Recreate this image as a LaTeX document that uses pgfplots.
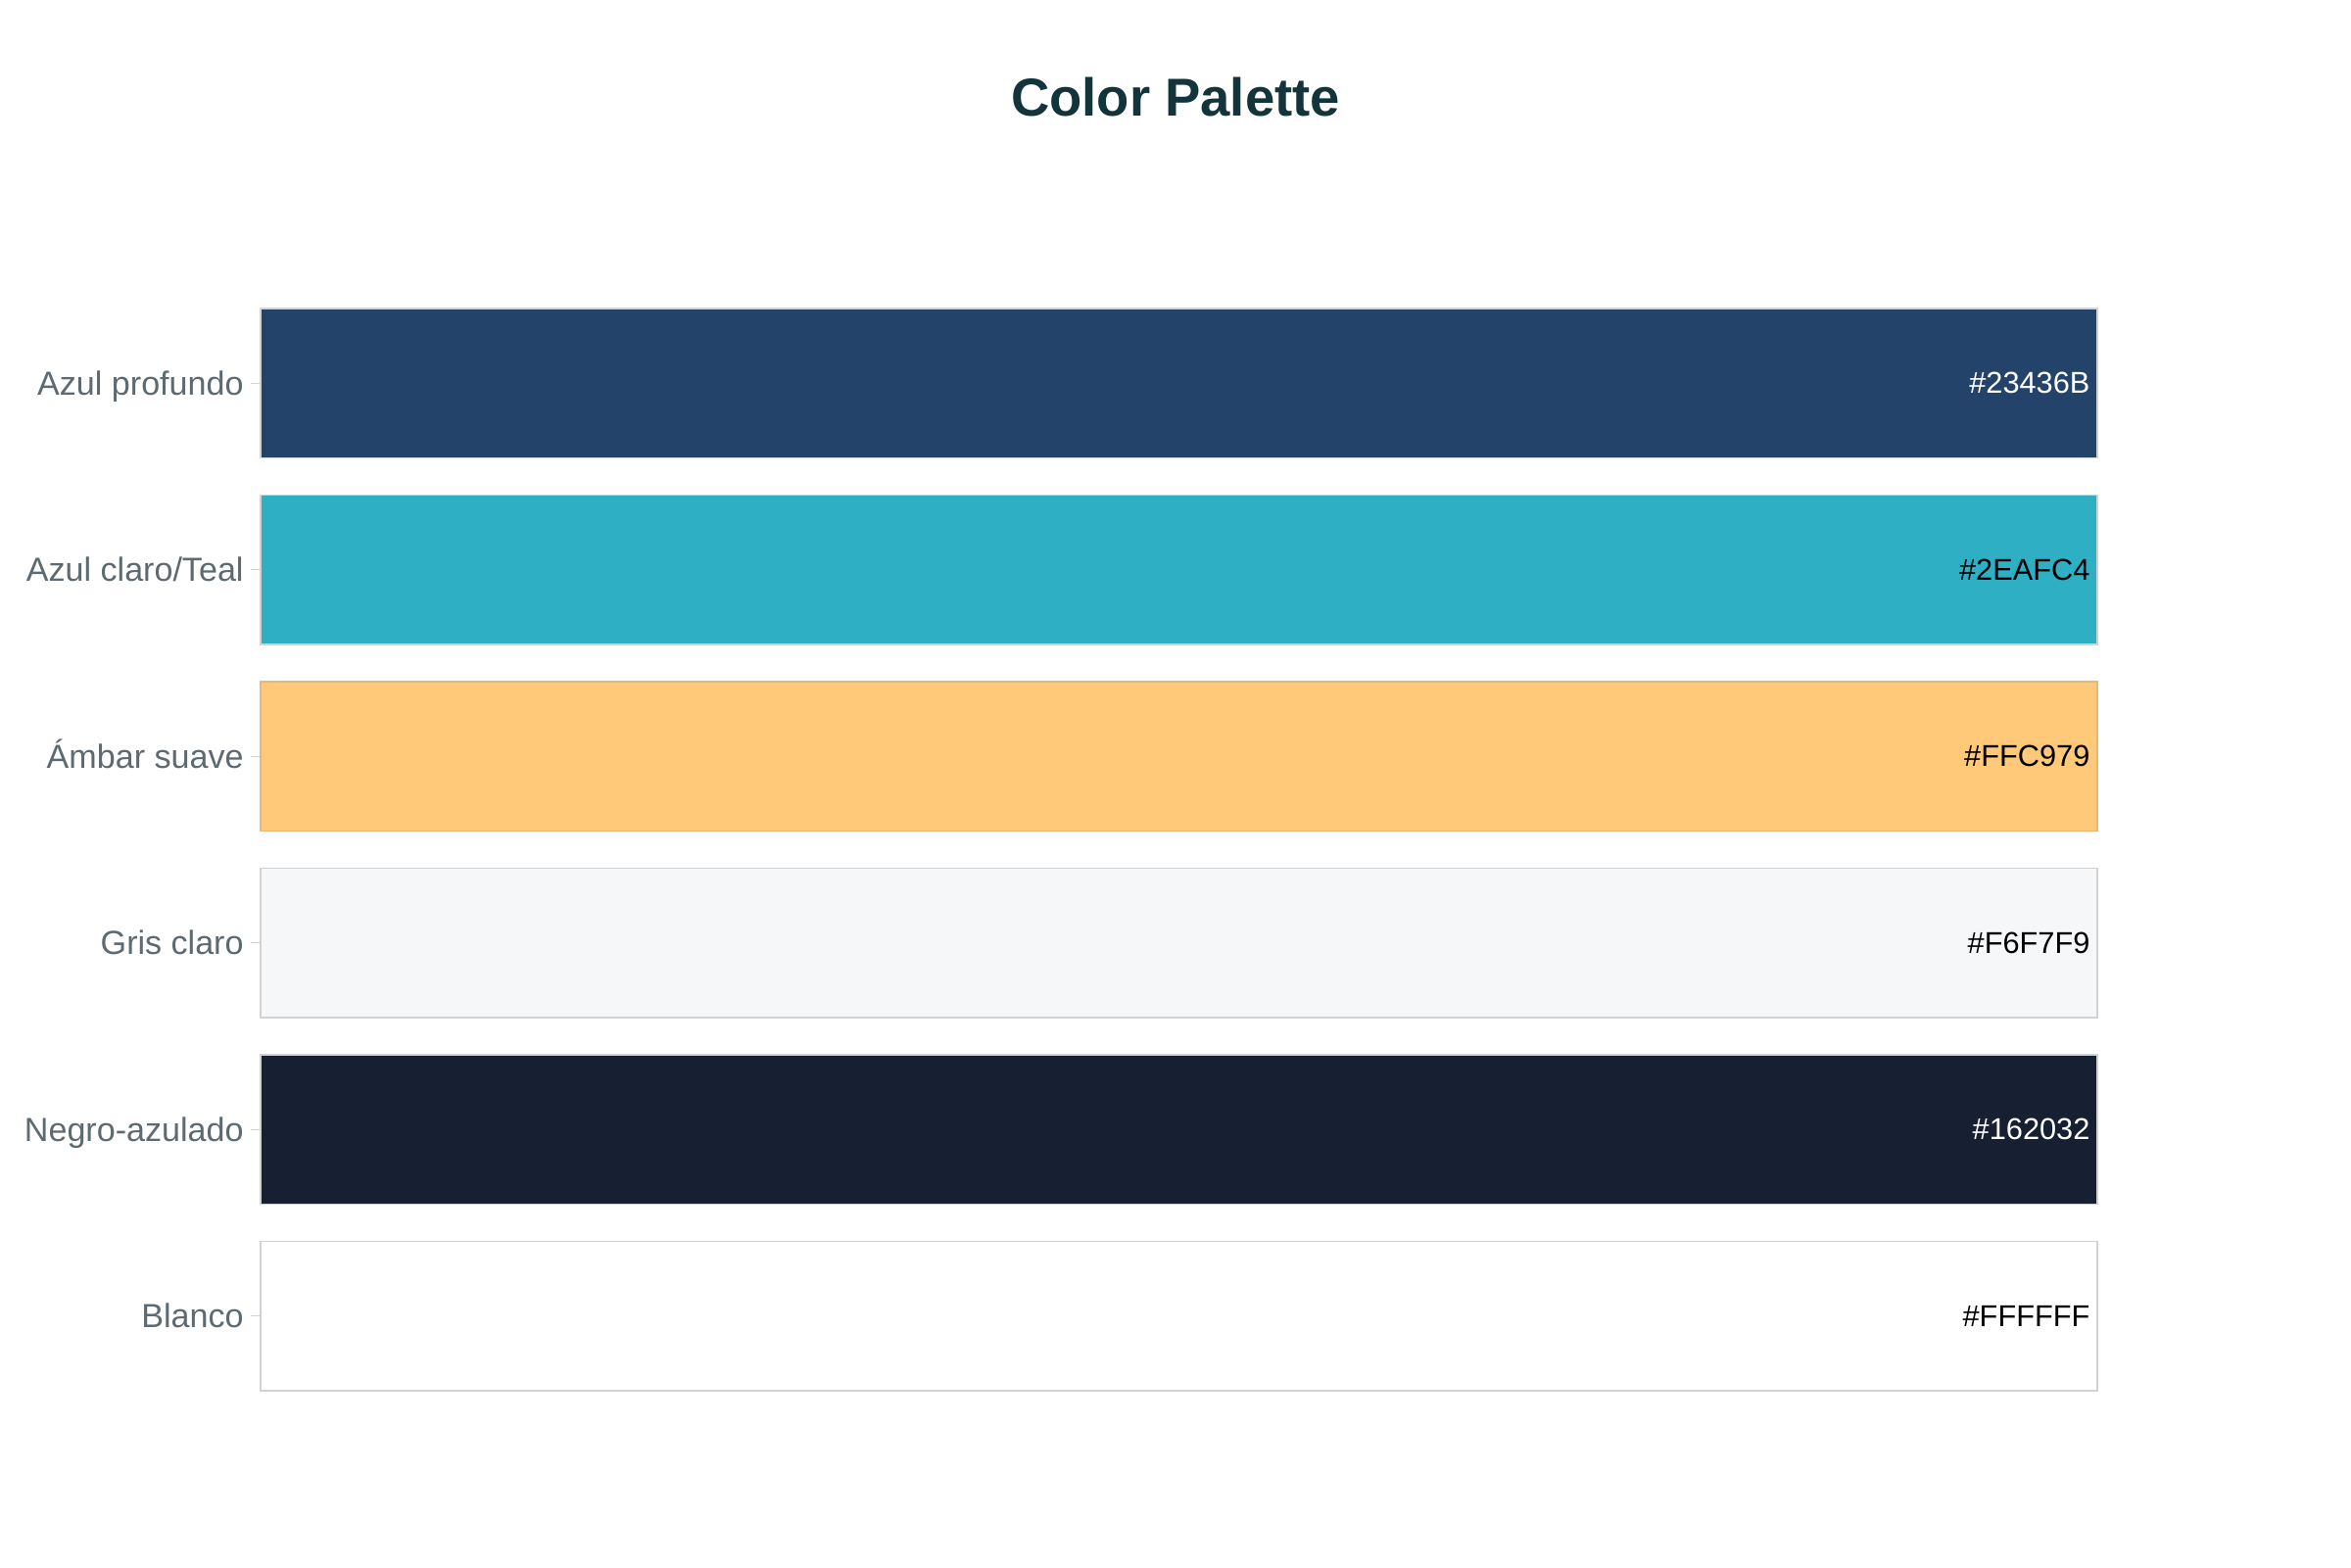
\documentclass[border=0pt]{standalone}
\usepackage{pgfplots}
\pgfplotsset{compat=1.18}
\usepackage{fontspec}
\setmainfont{Liberation Sans}
\definecolor{c1}{HTML}{23436B}
\definecolor{c2}{HTML}{2EAFC4}
\definecolor{c3}{HTML}{FFC979}
\definecolor{c4}{HTML}{F6F7F9}
\definecolor{c5}{HTML}{162032}
\definecolor{c6}{HTML}{FFFFFF}
\definecolor{titlec}{HTML}{13343B}
\definecolor{tickc}{HTML}{5E6A72}
\definecolor{edge}{HTML}{D2D2D2}
\begin{document}
\begin{tikzpicture}
\path[use as bounding box, fill=white] (0,0) rectangle (240mm,160mm);
\node[font=\fontsize{15.5}{18}\selectfont\bfseries, text=titlec, anchor=base] at (120mm,148.1mm) {Color Palette};
\begin{axis}[
  at={(26.6mm,16.1mm)}, anchor=south west,
  width=187.5mm, height=114.3mm, scale only axis,
  xmin=0, xmax=1, ymin=-0.5, ymax=5.5, y dir=reverse,
  xbar, bar width=0.8, bar shift=0pt,
  axis line style={draw=none},
  xtick=\empty,
  ytick={0,1,2,3,4,5},
  yticklabels={Azul profundo, Azul claro/Teal, Ámbar suave, Gris claro, Negro-azulado, Blanco},
  tick align=outside, tick pos=left,
  major tick length=1mm,
  y tick style={draw=edge, line width=0.12mm},
  yticklabel style={font=\fontsize{9.7}{11}\selectfont, text=tickc, anchor=base east, yshift=-3.4pt, xshift=0.5mm},
  every node near coord/.append style={anchor=east, inner sep=0pt, xshift=-0.7mm, font=\fontsize{8.75}{10}\selectfont},
  clip=false,
]
\addplot[fill=c1, draw=edge, line width=0.12mm, nodes near coords={\#23436B}, every node near coord/.append style={text=white}] coordinates {(1,0)};
\addplot[fill=c2, draw=edge, line width=0.12mm, nodes near coords={\#2EAFC4}, every node near coord/.append style={text=black}] coordinates {(1,1)};
\addplot[fill=c3, draw={rgb,255:red,232;green,184;blue,112}, line width=0.12mm, nodes near coords={\#FFC979}, every node near coord/.append style={text=black}] coordinates {(1,2)};
\addplot[fill=c4, draw=edge, line width=0.12mm, nodes near coords={\#F6F7F9}, every node near coord/.append style={text=black}] coordinates {(1,3)};
\addplot[fill=c5, draw=edge, line width=0.12mm, nodes near coords={\#162032}, every node near coord/.append style={text=white}] coordinates {(1,4)};
\addplot[fill=c6, draw=edge, line width=0.12mm, nodes near coords={\#FFFFFF}, every node near coord/.append style={text=black}] coordinates {(1,5)};
\end{axis}
\end{tikzpicture}
\end{document}
